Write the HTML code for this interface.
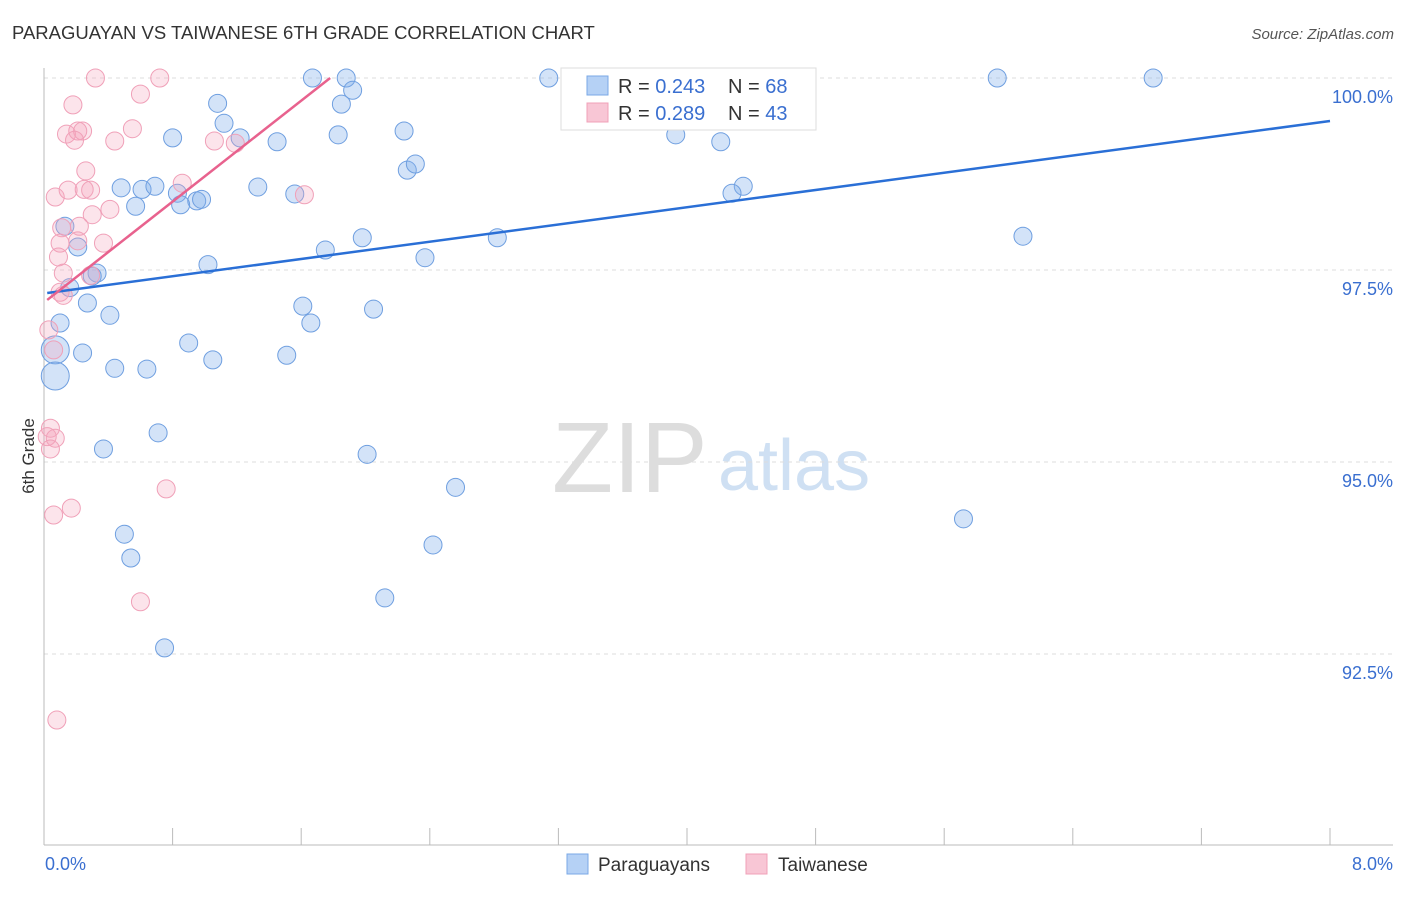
<!DOCTYPE html>
<html><head><meta charset="utf-8"><style>
body{margin:0;background:#fff;font-family:"Liberation Sans",sans-serif;}
svg text{font-family:"Liberation Sans",sans-serif;}
</style></head><body>
<svg id="c" width="1406" height="892">
<text x="12" y="39" font-size="18.5" fill="#333">PARAGUAYAN VS TAIWANESE 6TH GRADE CORRELATION CHART</text>
<text x="1394" y="39" font-size="15" fill="#555" text-anchor="end" font-style="italic">Source: ZipAtlas.com</text>
<g>
<text x="552" y="492" font-size="100" fill="#ddd" font-family="Liberation Serif">ZIP</text>
<text x="718" y="490" font-size="72" fill="#cfe0f3">atlas</text>
</g>
<g id="grid"></g><g id="axes"></g><g id="pts"></g><g id="lines"></g>
<text x="34" y="456" font-size="17" fill="#333" transform="rotate(-90 34 456)" text-anchor="middle">6th Grade</text>
<text x="45" y="870" font-size="18" fill="#3a6fd0">0.0%</text>
<text x="1393" y="870" font-size="18" fill="#3a6fd0" text-anchor="end">8.0%</text>
<g>
<rect x="561" y="68" width="255" height="62" fill="#fff" stroke="#ddd"/>
<rect x="587" y="76" width="21" height="19" fill="#b5d1f5" stroke="#7aa8e6"/>
<rect x="587" y="103" width="21" height="19" fill="#f8c6d5" stroke="#f0a0b8"/>
<text x="618" y="93" font-size="20" fill="#333">R = <tspan fill="#3a6fd0">0.243</tspan></text>
<text x="728" y="93" font-size="20" fill="#333">N = <tspan fill="#3a6fd0">68</tspan></text>
<text x="618" y="120" font-size="20" fill="#333">R = <tspan fill="#3a6fd0">0.289</tspan></text>
<text x="728" y="120" font-size="20" fill="#333">N = <tspan fill="#3a6fd0">43</tspan></text>
</g>
<g>
<rect x="567" y="854" width="21" height="20" fill="#b5d1f5" stroke="#7aa8e6"/>
<text x="598" y="871" font-size="19" fill="#333">Paraguayans</text>
<rect x="746" y="854" width="21" height="20" fill="#f8c6d5" stroke="#f0a0b8"/>
<text x="778" y="871" font-size="19" fill="#333">Taiwanese</text>
</g>
</svg>
<script>
const yTicks=[100,97.5,95,92.5];
const yTickLabels=["100.0%","97.5%","95.0%","92.5%"];
const xTicks=[0,0.8,1.6,2.4,3.2,4,4.8,5.6,6.4,7.2,8];
const blueX=[1.67,1.88,3.14,5.93,6.90,1.92,1.08,1.85,1.12,2.24,0.80,1.22,1.83,1.45,3.93,4.21,2.26,2.31,0.48,0.61,0.69,1.33,1.56,0.83,0.95,0.98,0.85,0.57,4.35,4.28,0.13,0.21,1.75,1.98,2.82,6.09,2.37,1.02,0.33,0.30,0.16,0.27,1.61,2.05,0.41,1.66,0.10,0.24,0.90,1.05,1.51,0.07,0.07,0.44,0.64,0.71,0.37,2.01,2.56,5.72,0.50,2.42,0.54,2.12,0.75,3.40];
const blueY=[100,100,100,100,100,99.84,99.67,99.66,99.41,99.31,99.22,99.22,99.26,99.17,99.26,99.17,98.80,98.88,98.57,98.55,98.59,98.58,98.49,98.50,98.40,98.42,98.35,98.33,98.59,98.50,98.07,97.80,97.76,97.92,97.92,97.94,97.66,97.57,97.46,97.42,97.27,97.07,97.03,96.99,96.91,96.81,96.81,96.42,96.55,96.33,96.39,96.46,96.12,96.22,96.21,95.38,95.17,95.10,94.67,94.26,94.06,93.92,93.75,93.23,92.58,99.66];
const blueSize=blueX.map((v,i)=>(i===51||i===52)?14:9);
const pinkX=[0.32,0.72,0.60,0.18,0.14,0.24,0.21,0.19,0.44,0.55,1.06,1.19,0.26,0.86,0.07,0.15,0.25,0.29,1.62,0.41,0.30,0.22,0.11,0.10,0.21,0.37,0.09,0.12,0.29,0.10,0.12,0.03,0.06,0.04,0.02,0.07,0.04,0.76,0.17,0.06,0.60,0.08,3.40];
const pinkY=[100,100,99.79,99.65,99.27,99.31,99.31,99.19,99.18,99.34,99.18,99.15,98.79,98.63,98.45,98.54,98.55,98.54,98.48,98.29,98.22,98.07,98.05,97.85,97.88,97.85,97.67,97.46,97.43,97.21,97.17,96.72,96.46,95.44,95.33,95.31,95.17,94.65,94.40,94.31,93.18,91.64,99.66];
const blueTrend=[[0.02,97.20],[8,99.44]];
const pinkTrend=[[0.02,97.11],[1.78,100.0]];
const X=v=>44+v/8*1286, Y=v=>78+(100-v)*76.8;
const NS="http://www.w3.org/2000/svg";
function mk(t,a,p){const e=document.createElementNS(NS,t);for(const k in a)e.setAttribute(k,a[k]);p.appendChild(e);return e;}
const g=document.getElementById('grid'),ax=document.getElementById('axes'),pts=document.getElementById('pts'),ln=document.getElementById('lines');
yTicks.forEach((t,i)=>{
const l=mk('line',{x1:44,x2:1393,y1:Y(t),y2:Y(t),stroke:'#ddd','stroke-dasharray':'4 4'},g);


const tx=mk('text',{x:1393,y:Y(t)+25,'font-size':18,fill:'#3a6fd0','text-anchor':'end'},g);tx.textContent=yTickLabels[i];


});
const la=mk('line',{x1:44,x2:44,y1:68,y2:845,stroke:'#bbb'},ax);


const ba=mk('line',{x1:44,x2:1393,y1:845,y2:845,stroke:'#bbb'},ax);


xTicks.forEach(t=>{const e=mk('line',{x1:X(t),x2:X(t),y1:828,y2:845,stroke:'#bbb'},ax);

});
blueX.forEach((v,i)=>{const c=mk('circle',{cx:X(v),cy:Y(blueY[i]),r:blueSize[i],fill:'rgba(130,175,235,0.35)',stroke:'#6f9fe0','stroke-width':1},pts);

});
pinkX.forEach((v,i)=>{const c=mk('circle',{cx:X(v),cy:Y(pinkY[i]),r:9,fill:'rgba(245,165,190,0.3)',stroke:'#f0a0b8','stroke-width':1},pts);

});
const bl=mk('line',{x1:X(blueTrend[0][0]),y1:Y(blueTrend[0][1]),x2:X(blueTrend[1][0]),y2:Y(blueTrend[1][1]),stroke:'#2a6fd6','stroke-width':2.5},ln);


const pl=mk('line',{x1:X(pinkTrend[0][0]),y1:Y(pinkTrend[0][1]),x2:X(pinkTrend[1][0]),y2:Y(pinkTrend[1][1]),stroke:'#e8628e','stroke-width':2.5},ln);


</script>
</body></html>
